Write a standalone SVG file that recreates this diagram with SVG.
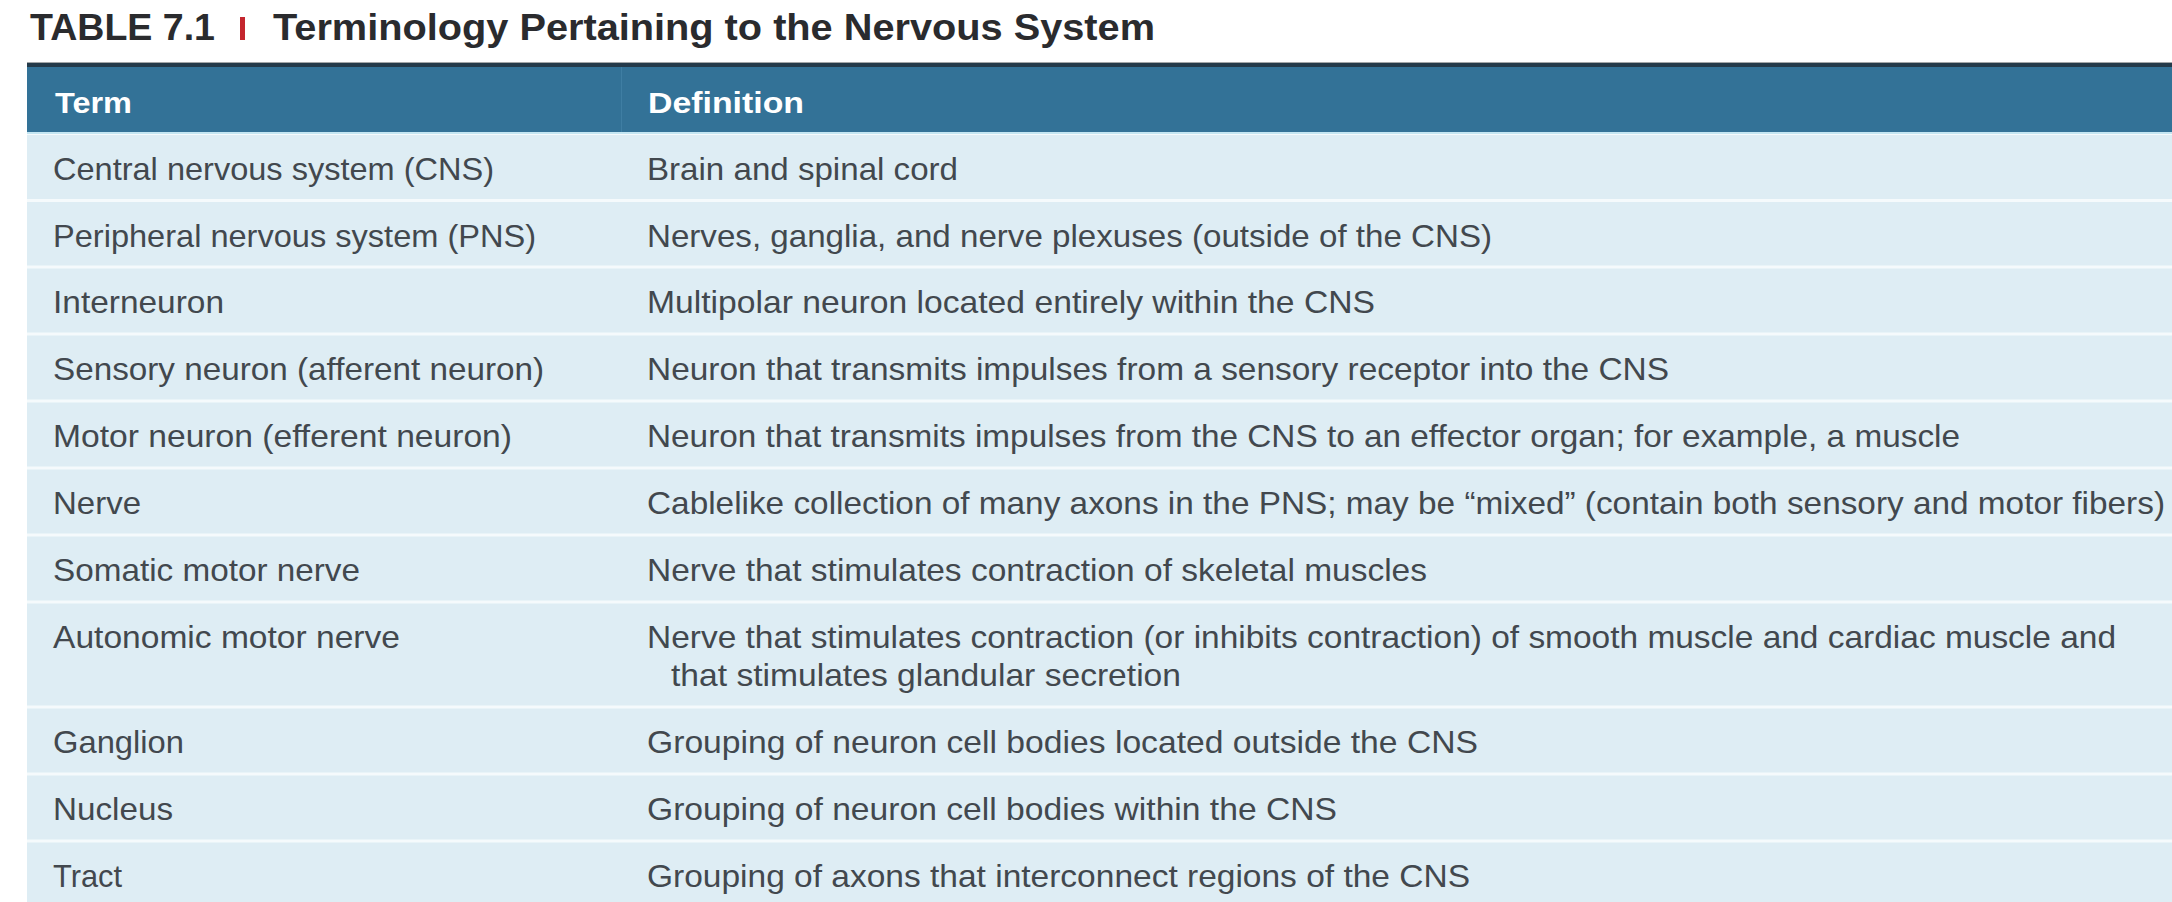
<svg xmlns="http://www.w3.org/2000/svg" width="2172" height="902" viewBox="0 0 2172 902">
<style>
text{font-family:"Liberation Sans",Arial,sans-serif}
.title{font-weight:bold;font-size:36px;fill:#2a2b2e}
.hdr{font-weight:bold;font-size:30px;fill:#ffffff}
.cell{font-size:32px;fill:#42484e}
.row{fill:#deedf4}
</style>
<rect x="0" y="0" width="2172" height="902" fill="#ffffff"/>
<g id="title">
<text class="title" x="30" y="40" textLength="185" lengthAdjust="spacingAndGlyphs">TABLE 7.1</text>
<rect x="240" y="17" width="5" height="23" fill="#c4262e"/>
<text class="title" x="273" y="40" textLength="882" lengthAdjust="spacingAndGlyphs">Terminology Pertaining to the Nervous System</text>
</g>
<g id="table-bg">
<rect x="27" y="133" width="2145" height="769" fill="#f5fafc"/>
</g>
<g id="header">
<rect x="27" y="62" width="2145" height="1" fill="#a3a6a8"/>
<rect x="27" y="63" width="2145" height="4" fill="#243a4a"/>
<rect x="27" y="67" width="2145" height="65" fill="#337297"/>
<rect x="621" y="67" width="1" height="65" fill="#3f7ea3"/>
<rect x="27" y="132" width="2145" height="2" fill="#c4e6f2"/>
<text class="hdr" x="55" y="113" textLength="77" lengthAdjust="spacingAndGlyphs">Term</text>
<text class="hdr" x="648" y="113" textLength="156" lengthAdjust="spacingAndGlyphs">Definition</text>
</g>
<g id="row-cns">
<rect class="row" x="27" y="135" width="2145" height="64"/>
<text class="cell" x="53" y="180" textLength="441" lengthAdjust="spacingAndGlyphs">Central nervous system (CNS)</text>
<text class="cell" x="647" y="180" textLength="311" lengthAdjust="spacingAndGlyphs">Brain and spinal cord</text>
</g>
<g id="row-pns">
<rect class="row" x="27" y="202" width="2145" height="63.5"/>
<text class="cell" x="53" y="247" textLength="483" lengthAdjust="spacingAndGlyphs">Peripheral nervous system (PNS)</text>
<text class="cell" x="647" y="247" textLength="845" lengthAdjust="spacingAndGlyphs">Nerves, ganglia, and nerve plexuses (outside of the CNS)</text>
</g>
<g id="row-interneuron">
<rect class="row" x="27" y="268.5" width="2145" height="64"/>
<text class="cell" x="53" y="313" textLength="171" lengthAdjust="spacingAndGlyphs">Interneuron</text>
<text class="cell" x="647" y="313" textLength="728" lengthAdjust="spacingAndGlyphs">Multipolar neuron located entirely within the CNS</text>
</g>
<g id="row-sensory">
<rect class="row" x="27" y="335.5" width="2145" height="64"/>
<text class="cell" x="53" y="380" textLength="491" lengthAdjust="spacingAndGlyphs">Sensory neuron (afferent neuron)</text>
<text class="cell" x="647" y="380" textLength="1022" lengthAdjust="spacingAndGlyphs">Neuron that transmits impulses from a sensory receptor into the CNS</text>
</g>
<g id="row-motor">
<rect class="row" x="27" y="402.5" width="2145" height="64"/>
<text class="cell" x="53" y="447" textLength="459" lengthAdjust="spacingAndGlyphs">Motor neuron (efferent neuron)</text>
<text class="cell" x="647" y="447" textLength="1313" lengthAdjust="spacingAndGlyphs">Neuron that transmits impulses from the CNS to an effector organ; for example, a muscle</text>
</g>
<g id="row-nerve">
<rect class="row" x="27" y="469.5" width="2145" height="64"/>
<text class="cell" x="53" y="514" textLength="88" lengthAdjust="spacingAndGlyphs">Nerve</text>
<text class="cell" x="647" y="514" textLength="1518" lengthAdjust="spacingAndGlyphs">Cablelike collection of many axons in the PNS; may be “mixed” (contain both sensory and motor fibers)</text>
</g>
<g id="row-somatic">
<rect class="row" x="27" y="536.5" width="2145" height="64"/>
<text class="cell" x="53" y="581" textLength="307" lengthAdjust="spacingAndGlyphs">Somatic motor nerve</text>
<text class="cell" x="647" y="581" textLength="780" lengthAdjust="spacingAndGlyphs">Nerve that stimulates contraction of skeletal muscles</text>
</g>
<g id="row-autonomic">
<rect class="row" x="27" y="603.5" width="2145" height="102"/>
<text class="cell" x="53" y="648" textLength="347" lengthAdjust="spacingAndGlyphs">Autonomic motor nerve</text>
<text class="cell" x="647" y="648" textLength="1469" lengthAdjust="spacingAndGlyphs">Nerve that stimulates contraction (or inhibits contraction) of smooth muscle and cardiac muscle and</text>
<text class="cell" x="671" y="686" textLength="510" lengthAdjust="spacingAndGlyphs">that stimulates glandular secretion</text>
</g>
<g id="row-ganglion">
<rect class="row" x="27" y="708.5" width="2145" height="64"/>
<text class="cell" x="53" y="753" textLength="131" lengthAdjust="spacingAndGlyphs">Ganglion</text>
<text class="cell" x="647" y="753" textLength="831" lengthAdjust="spacingAndGlyphs">Grouping of neuron cell bodies located outside the CNS</text>
</g>
<g id="row-nucleus">
<rect class="row" x="27" y="775.5" width="2145" height="64"/>
<text class="cell" x="53" y="820" textLength="120" lengthAdjust="spacingAndGlyphs">Nucleus</text>
<text class="cell" x="647" y="820" textLength="690" lengthAdjust="spacingAndGlyphs">Grouping of neuron cell bodies within the CNS</text>
</g>
<g id="row-tract">
<rect class="row" x="27" y="842.5" width="2145" height="59.5"/>
<text class="cell" x="53" y="887" textLength="69" lengthAdjust="spacingAndGlyphs">Tract</text>
<text class="cell" x="647" y="887" textLength="823" lengthAdjust="spacingAndGlyphs">Grouping of axons that interconnect regions of the CNS</text>
</g>
</svg>
